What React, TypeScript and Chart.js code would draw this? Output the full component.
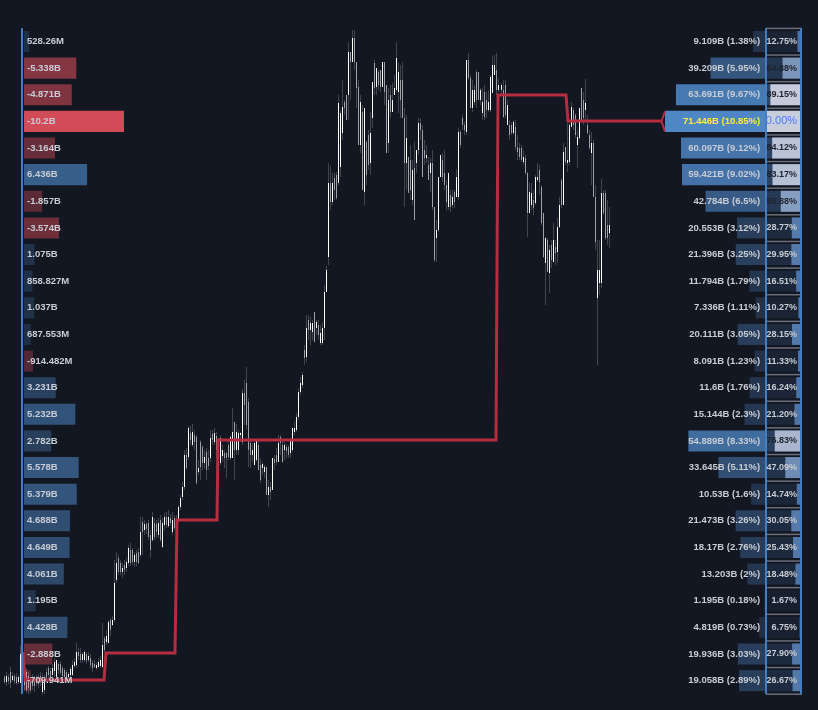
import React, { useEffect, useRef } from 'react'
import Chart from 'chart.js/auto'

// profile rows, top to bottom
const flowValues = [0.528, -5.338, -4.871, -10.2, -3.164, 6.436, -1.857, -3.574, 1.075, 0.859, 1.037, 0.688, -0.914, 3.231, 5.232, 2.782, 5.578, 5.379, 4.688, 4.649, 4.061, 1.195, 4.428, -2.888, -0.71]
const flowLabels = ['528.26M', '-5.338B', '-4.871B', '-10.2B', '-3.164B', '6.436B', '-1.857B', '-3.574B', '1.075B', '858.827M', '1.037B', '687.553M', '-914.482M', '3.231B', '5.232B', '2.782B', '5.578B', '5.379B', '4.688B', '4.649B', '4.061B', '1.195B', '4.428B', '-2.888B', '-709.941M']
const volumeValues = [9.109, 39.209, 63.691, 71.446, 60.097, 59.421, 42.784, 20.553, 21.396, 11.794, 7.336, 20.111, 8.091, 11.6, 15.144, 54.889, 33.645, 10.53, 21.473, 18.17, 13.203, 1.195, 4.819, 19.936, 19.058]
const volumeLabels = ['9.109B (1.38%)', '39.209B (5.95%)', '63.691B (9.67%)', '71.446B (10.85%)', '60.097B (9.12%)', '59.421B (9.02%)', '42.784B (6.5%)', '20.553B (3.12%)', '21.396B (3.25%)', '11.794B (1.79%)', '7.336B (1.11%)', '20.111B (3.05%)', '8.091B (1.23%)', '11.6B (1.76%)', '15.144B (2.3%)', '54.889B (8.33%)', '33.645B (5.11%)', '10.53B (1.6%)', '21.473B (3.26%)', '18.17B (2.76%)', '13.203B (2%)', '1.195B (0.18%)', '4.819B (0.73%)', '19.936B (3.03%)', '19.058B (2.89%)']
const cellLabels = ['12.75%', '54.88%', '89.15%', '0.00%', '84.12%', '83.17%', '59.88%', '28.77%', '29.95%', '16.51%', '10.27%', '28.15%', '11.33%', '16.24%', '21.20%', '76.83%', '47.09%', '14.74%', '30.05%', '25.43%', '18.48%', '1.67%', '6.75%', '27.90%', '26.67%']

// price candles, one per bar slot
const highs = [35, 38, 36, 43, 38, 36, 37, 35, 64, 58, 42, 42, 38, 33, 36,
  34, 35, 36, 38, 37, 35, 42, 44, 42, 46, 52, 50, 48, 49, 44,
  42, 40, 38, 43, 50, 52, 67, 62, 62, 58, 60, 58, 58, 56, 50,
  50, 48, 52, 54, 87, 74, 80, 90, 92, 94, 150, 158, 155, 150, 147,
  150, 152, 165, 167, 162, 158, 160, 162, 193, 193, 190, 188, 190, 180, 198,
  192, 190, 192, 195, 192, 197, 198, 200, 196, 198, 195, 195, 205, 215, 228,
  260, 262, 284, 284, 286, 280, 275, 250, 270, 265, 260, 262, 260, 280, 280,
  282, 278, 272, 275, 265, 260, 258, 270, 275, 302, 288, 286, 280, 278, 321,
  330, 343, 312, 270, 267, 270, 272, 268, 252, 248, 245, 243, 230, 228, 252,
  255, 262, 275, 275, 270, 268, 266, 265, 272, 282, 288, 297, 322, 333, 338,
  365, 395, 395, 393, 390, 398, 390, 390, 385, 388, 425, 444, 547, 544, 537,
  537, 538, 615, 600, 630, 610, 615, 668, 658, 680, 680, 648, 630, 615, 605,
  602, 570, 580, 598, 628, 650, 642, 640, 640, 648, 648, 625, 622, 625, 627,
  635, 668, 647, 645, 648, 602, 595, 553, 565, 550, 568, 560, 592, 592, 585,
  570, 565, 553, 552, 560, 503, 490, 533, 555, 557, 560, 530, 537, 520, 520,
  520, 541, 582, 580, 595, 588, 650, 657, 635, 630, 625, 640, 638, 622, 622,
  625, 618, 620, 635, 654, 655, 657, 632, 627, 630, 630, 610, 590, 588, 590,
  590, 575, 567, 565, 560, 555, 538, 527, 527, 520, 535, 547, 545, 525, 497,
  473, 472, 465, 470, 487, 470, 492, 513, 532, 567, 563, 587, 587, 608, 602,
  597, 580, 602, 622, 618, 631, 595, 580, 578, 570, 525, 470, 470, 531, 520,
  520, 510, 503]
const lows = [26, 24, 26, 22, 28, 26, 25, 26, 27, 23, 20, 17, 16, 17, 20,
  18, 24, 22, 24, 15, 16, 28, 32, 30, 30, 33, 30, 36, 35, 30,
  30, 28, 30, 33, 34, 42, 42, 50, 47, 47, 48, 46, 48, 42, 38,
  42, 40, 42, 42, 42, 58, 65, 67, 74, 84, 88, 127, 135, 135, 132,
  135, 138, 144, 144, 145, 143, 144, 146, 153, 155, 175, 176, 170, 152, 168,
  170, 172, 172, 168, 162, 180, 182, 182, 184, 175, 180, 182, 188, 200, 210,
  220, 240, 250, 265, 263, 260, 225, 235, 230, 240, 242, 230, 240, 248, 265,
  265, 252, 252, 245, 248, 242, 232, 250, 250, 252, 230, 255, 255, 268, 265,
  285, 280, 243, 242, 248, 245, 248, 240, 227, 235, 232, 215, 203, 210, 220,
  240, 245, 248, 255, 247, 250, 252, 252, 252, 258, 275, 278, 290, 315, 322,
  345, 348, 370, 365, 370, 368, 375, 370, 365, 365, 370, 418, 445, 500, 505,
  510, 510, 525, 533, 570, 595, 590, 590, 610, 648, 640, 602, 565, 557, 520,
  505, 525, 540, 535, 582, 615, 615, 620, 618, 623, 605, 557, 557, 592, 598,
  615, 618, 597, 592, 592, 503, 520, 517, 510, 505, 490, 537, 555, 570, 533,
  545, 547, 530, 518, 500, 448, 448, 478, 533, 528, 520, 500, 500, 498, 502,
  502, 513, 510, 562, 580, 575, 575, 630, 602, 598, 605, 602, 610, 605, 590,
  590, 592, 598, 598, 617, 635, 615, 618, 615, 592, 592, 585, 570, 575, 575,
  560, 550, 550, 548, 545, 535, 473, 497, 500, 495, 505, 528, 515, 485, 452,
  405, 438, 417, 442, 448, 445, 447, 482, 502, 505, 545, 538, 545, 583, 580,
  572, 542, 570, 588, 585, 588, 575, 560, 525, 513, 460, 345, 415, 422, 495,
  470, 465, 462]
const opens = [33, 28, 33, 38, 30, 34, 33, 28, 27, 55, 38, 38, 34, 31, 32,
  31, 33, 33, 34, 18, 20, 38, 42, 39, 35, 39, 33, 46, 46, 42,
  40, 38, 33, 35, 35, 44, 45, 58, 56, 50, 50, 56, 50, 52, 47,
  46, 42, 43, 44, 43, 72, 68, 67, 90, 85, 90, 130, 152, 147, 138,
  145, 142, 147, 160, 160, 148, 157, 158, 155, 188, 180, 186, 187, 175, 170,
  187, 186, 175, 190, 163, 185, 193, 184, 192, 178, 192, 190, 190, 203, 213,
  223, 255, 253, 277, 265, 275, 273, 238, 268, 263, 247, 258, 252, 252, 276,
  268, 274, 270, 247, 254, 257, 257, 265, 252, 252, 288, 260, 260, 275, 268,
  317, 327, 308, 267, 255, 245, 250, 265, 245, 242, 238, 243, 215, 223, 220,
  251, 255, 248, 273, 265, 260, 263, 263, 257, 260, 278, 280, 293, 318, 325,
  360, 353, 390, 380, 378, 398, 382, 385, 367, 367, 382, 418, 453, 527, 508,
  532, 535, 527, 543, 577, 608, 615, 615, 658, 648, 672, 648, 623, 565, 598,
  518, 568, 575, 547, 592, 647, 623, 638, 640, 623, 648, 625, 567, 615, 598,
  615, 620, 618, 630, 630, 592, 547, 553, 550, 510, 542, 547, 560, 587, 580,
  560, 552, 545, 537, 547, 503, 472, 480, 533, 550, 537, 525, 503, 515, 505,
  518, 513, 513, 578, 592, 585, 578, 650, 632, 602, 608, 638, 638, 610, 597,
  618, 610, 600, 600, 617, 635, 640, 620, 620, 620, 625, 585, 585, 585, 577,
  583, 563, 562, 562, 548, 552, 537, 497, 505, 510, 507, 530, 540, 523, 497,
  447, 470, 437, 465, 448, 463, 458, 483, 530, 505, 563, 547, 548, 583, 600,
  595, 565, 572, 622, 610, 600, 585, 575, 557, 567, 513, 412, 427, 427, 517,
  517, 485, 477]
const closes = [28, 34, 29, 27, 34, 29, 27, 33, 56, 25, 25, 20, 22, 20, 24,
  24, 27, 26, 28, 30, 30, 30, 35, 33, 42, 48, 50, 40, 37, 34,
  33, 32, 36, 41, 45, 48, 58, 54, 50, 56, 58, 49, 54, 45, 42,
  43, 45, 48, 50, 65, 60, 74, 88, 80, 90, 127, 147, 138, 138, 142,
  140, 148, 162, 147, 148, 155, 148, 147, 178, 178, 186, 181, 173, 160, 193,
  173, 178, 187, 170, 187, 193, 185, 193, 187, 190, 182, 184, 203, 212, 223,
  255, 242, 282, 270, 278, 268, 227, 242, 243, 247, 253, 240, 244, 272, 270,
  277, 260, 255, 272, 260, 252, 252, 253, 273, 278, 260, 278, 277, 277, 317,
  305, 285, 260, 255, 260, 267, 270, 240, 230, 246, 243, 215, 223, 218, 252,
  247, 248, 267, 267, 248, 265, 259, 255, 270, 282, 282, 293, 318, 327, 335,
  352, 382, 380, 387, 387, 368, 388, 375, 377, 382, 418, 440, 527, 508, 527,
  520, 512, 607, 597, 603, 602, 590, 658, 648, 672, 648, 622, 565, 608, 520,
  602, 535, 545, 577, 628, 622, 642, 625, 623, 648, 618, 557, 610, 598, 610,
  622, 652, 638, 610, 592, 547, 572, 517, 520, 540, 490, 560, 587, 580, 533,
  552, 555, 530, 547, 503, 450, 480, 533, 555, 533, 525, 508, 537, 503, 513,
  508, 533, 578, 565, 585, 580, 650, 632, 602, 620, 620, 610, 610, 620, 608,
  593, 600, 608, 633, 645, 645, 620, 625, 625, 593, 595, 605, 575, 577, 588,
  563, 558, 553, 550, 553, 537, 497, 518, 517, 502, 533, 533, 528, 487, 453,
  472, 438, 460, 450, 470, 457, 483, 505, 505, 558, 548, 550, 585, 603, 585,
  575, 573, 602, 588, 592, 607, 577, 562, 567, 513, 468, 440, 440, 517, 497,
  472, 472, 485]

// point of control path, time in candle slots
const pocTimes = [9.25, 10.25, 49.75, 50.75, 85.25, 86.25, 106.25, 106.75, 245.75, 246.75, 280.75, 281.75, 328.25]
const pocPrices = [58, 30, 30, 57, 57, 190, 190, 270, 270, 615, 615, 589, 589]

const BG = '#131722'
const BLUE = '79, 135, 197'
const RED = '209, 75, 88'
const TEXT = '#c8ccd4'
const maxFlow = 10.2
const maxVolume = Math.max(...volumeValues)
const pocRow = volumeValues.indexOf(maxVolume)
const rowIdx = flowValues.map((_, i) => i)

const shade = (r: number, floor: number) => floor + (1 - floor) * Math.pow(r, 1.3)

const cellBarColor = (r: number) => {
  const t = Math.pow(Math.min(1, Math.max(0, (r - 0.15) / 0.75)), 1.5)
  const mix = (a: number, b: number) => Math.round(a + (b - a) * t)
  return `rgb(${mix(75, 200)}, ${mix(115, 205)}, ${mix(165, 220)})`
}

const overlay = {
  id: 'overlay',
  afterDatasetsDraw(chart: Chart) {
    const { ctx } = chart
    const row = chart.scales.row
    const flow = chart.scales.flow
    const volume = chart.scales.volume
    const cell = chart.scales.cell
    const top = row.getPixelForValue(-0.5)
    const bottom = row.getPixelForValue(24.5)
    const boxLeft = volume.getPixelForValue(0)
    const boxRight = cell.getPixelForValue(0)

    ctx.save()
    // separators between the share cells
    ctx.fillStyle = 'rgb(105, 110, 122)'
    for (let i = 0; i <= rowIdx.length; i++) {
      ctx.fillRect(boxLeft, row.getPixelForValue(i - 0.5) - 0.5, boxRight - boxLeft, 1.5)
    }
    // axis lines
    ctx.fillStyle = 'rgb(70, 125, 190)'
    ctx.fillRect(flow.getPixelForValue(0) - 3, top, 2, bottom - top)
    ctx.fillRect(boxLeft - 1, top, 2, bottom - top)
    ctx.fillRect(boxRight - 2, top, 2, bottom - top)

    // pointer on the biggest row
    const tip = volume.getPixelForValue(maxVolume)
    const yc = row.getPixelForValue(pocRow)
    ctx.beginPath()
    ctx.moveTo(tip, yc - 10)
    ctx.lineTo(tip - 3.5, yc)
    ctx.lineTo(tip, yc + 10)
    ctx.closePath()
    ctx.fillStyle = BG
    ctx.fill()
    ctx.beginPath()
    ctx.moveTo(tip, yc - 10)
    ctx.lineTo(tip - 3.5, yc)
    ctx.lineTo(tip, yc + 10)
    ctx.strokeStyle = '#b62c41'
    ctx.lineWidth = 2
    ctx.stroke()

    ctx.textBaseline = 'middle'
    rowIdx.forEach((i) => {
      const y = row.getPixelForValue(i)
      const r = volumeValues[i] / maxVolume
      ctx.font = 'bold 9.5px "Liberation Sans"'
      ctx.textAlign = 'left'
      ctx.fillStyle = TEXT
      ctx.fillText(flowLabels[i], flow.getPixelForValue(0) + 3, y)
      ctx.textAlign = 'right'
      ctx.fillStyle = i === pocRow ? '#ffeb3b' : TEXT
      ctx.fillText(volumeLabels[i], volume.getPixelForValue(4.2), y)
      if (i === pocRow) {
        ctx.font = '11px "Liberation Sans"'
        ctx.fillStyle = '#4a7cff'
      } else {
        ctx.font = 'bold 9px "Liberation Sans"'
        ctx.fillStyle = r > 0.54 ? '#1e222d' : TEXT
      }
      ctx.fillText(cellLabels[i], cell.getPixelForValue(14), y)
    })
    ctx.restore()
  },
}

const App = () => {
  const chartRef = useRef<HTMLCanvasElement>(null)

  useEffect(() => {
    if (!chartRef.current) return
    // the last candles sit half a slot to the right
    const slots = highs.map((_, i) => (i < 248 ? i : i + 0.5))
    const rowBar = {
      type: 'bar' as const,
      indexAxis: 'y' as const,
      yAxisID: 'row',
      grouped: false,
      barPercentage: 0.79,
      categoryPercentage: 1,
      borderWidth: 0,
    }
    const candleBar = {
      type: 'bar' as const,
      xAxisID: 'time',
      yAxisID: 'price',
      grouped: false,
      barPercentage: 0.5,
      categoryPercentage: 1,
      borderWidth: 0,
    }
    const chart = new Chart(chartRef.current, {
      type: 'bar',
      data: {
        datasets: [
          {
            type: 'line',
            xAxisID: 'time',
            yAxisID: 'price',
            data: pocTimes.map((t, i) => ({ x: t, y: pocPrices[i] })),
            borderColor: '#b62c41',
            borderWidth: 3,
            pointRadius: 0,
            tension: 0,
            borderJoinStyle: 'miter',
            order: 0,
          },
          {
            ...candleBar,
            data: slots.map((t, i) => ({ x: t, y: [opens[i], closes[i]] })),
            backgroundColor: opens.map((o, i) => (closes[i] > o ? '#ffffff' : 'rgba(255, 255, 255, 0.5)')),
            order: 1,
          },
          {
            ...candleBar,
            data: slots.map((t, i) => ({ x: t, y: [lows[i], highs[i]] })),
            backgroundColor: 'rgba(255, 255, 255, 0.2)',
            order: 2,
          },
          {
            ...rowBar,
            xAxisID: 'cell',
            data: volumeValues.map((v, i) => ({ x: (v / maxVolume) * 100, y: i })),
            backgroundColor: volumeValues.map((v) => cellBarColor(v / maxVolume)),
            order: 3,
          },
          {
            ...rowBar,
            xAxisID: 'cell',
            data: volumeValues.map((_, i) => ({ x: 100, y: i })),
            backgroundColor: volumeValues.map((v) => `rgba(${BLUE}, ${0.07 + 0.4 * (v / maxVolume)})`),
            order: 4,
          },
          {
            ...rowBar,
            xAxisID: 'volume',
            data: volumeValues.map((v, i) => ({ x: v, y: i })),
            backgroundColor: volumeValues.map((v) => `rgba(${BLUE}, ${shade(v / maxVolume, 0.2)})`),
            order: 5,
          },
          {
            ...rowBar,
            xAxisID: 'flow',
            data: flowValues.map((v, i) => ({ x: Math.abs(v), y: i })),
            backgroundColor: flowValues.map((v) =>
              v < 0
                ? `rgba(${RED}, ${shade(-v / maxFlow, 0.3)})`
                : `rgba(${BLUE}, ${shade(v / maxFlow, 0.2)})`
            ),
            order: 6,
          },
        ],
      } as any,
      options: {
        responsive: false,
        animation: false,
        layout: { padding: 0 },
        events: [],
        plugins: {
          legend: { display: false },
          tooltip: { enabled: false },
        },
        scales: {
          time: { type: 'linear', axis: 'x', display: false, offset: false, min: -2.25, max: 406.75 },
          price: { type: 'linear', axis: 'y', display: false, offset: false, min: 0, max: 710 },
          row: { type: 'linear', axis: 'y', display: false, offset: false, reverse: true, min: -1.558, max: 25.103 },
          flow: { type: 'linear', axis: 'x', display: false, offset: false, min: -2.448, max: 80.99 },
          volume: { type: 'linear', axis: 'x', display: false, offset: false, reverse: true, min: -36.78, max: 541.8 },
          cell: { type: 'linear', axis: 'x', display: false, offset: false, reverse: true, min: -45.07, max: 2259.15 },
        },
      } as any,
      plugins: [overlay],
    })

    return () => {
      chart.destroy()
    }
  }, [])

  return (
    <div style={{ position: 'fixed', inset: 0, background: BG }}>
      <canvas ref={chartRef} width={818} height={710} style={{ display: 'block' }} />
    </div>
  )
}

export default App
